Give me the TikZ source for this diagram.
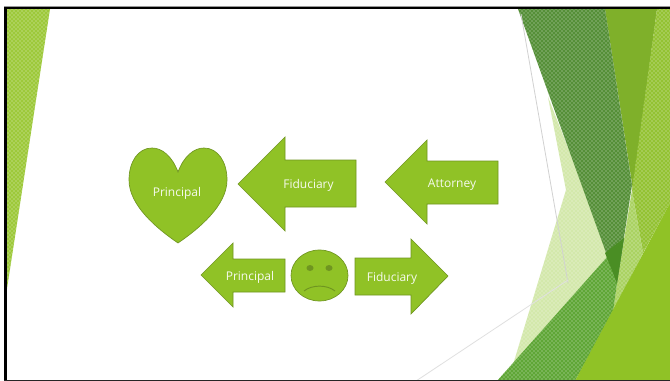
\documentclass[tikz,border=0pt]{standalone}
\usepackage{fontspec}
\setsansfont{Open Sans}
\usetikzlibrary{patterns}
\definecolor{signgreen}{HTML}{90C226}
\definecolor{signedge}{HTML}{6F9520}
\definecolor{wedgeleft}{HTML}{9DC93A}
\definecolor{wedgepale}{HTML}{D3E8AB}
\definecolor{wedgedark}{HTML}{558F38}
\definecolor{wedgeolive}{HTML}{7FB02A}
\definecolor{wedgelight}{HTML}{93C233}
\definecolor{wedgestrip}{HTML}{AAD262}
\definecolor{wedgemid}{HTML}{5FA636}
\definecolor{wedgedeep}{HTML}{4A8E24}
\tikzset{
  sign/.style={fill=signgreen, draw=signedge, line width=0.5pt},
  signtext/.style={text=white!92!signgreen, font=\sffamily\fontsize{9}{11}\selectfont, inner sep=0pt},
  dotfill/.style={fill=#1, postaction={pattern=crosshatch dots, pattern color=white!70!#1}},
}
\begin{document}
\begin{tikzpicture}[x=0.75pt,y=-0.75pt]
  \useasboundingbox (0,0) rectangle (670,381);
  \fill[white] (0,0) rectangle (670,381);

  % left wedge
  \fill[dotfill=wedgeleft] (6,9) -- (50,9) -- (6,295) -- cycle;

  % right wedges
  \fill[dotfill=wedgepale] (548,97) -- (566,190) -- (512,368) -- (612,260) -- cycle;
  \fill[wedgeolive] (605,9) -- (657,9) -- (633,190) -- cycle;
  \fill[dotfill=wedgelight] (657,9) -- (670,9) -- (670,203) -- (643,253) -- (632,190) -- cycle;
  \fill[dotfill=wedgestrip] (632,190) -- (643,253) -- (613,312) -- (617,283) -- cycle;
  \fill[dotfill=wedgemid] (497,381) -- (624,238) -- (617,283) -- (613,312) -- (575,381) -- cycle;
  \fill[dotfill=wedgedark] (518,9) -- (605,9) -- (632,185) -- (617,283) -- cycle;
  \fill[wedgedeep] (605,253) -- (624,238) -- (617,283) -- cycle;
  \fill[signgreen] (575,381) -- (670,203) -- (670,381) -- cycle;

  % thin lines
  \draw[black!18, line width=0.6pt] (521,14) -- (568,283);
  \draw[black!12, line width=0.6pt] (416,381) -- (568,280);

  % frame
  \fill[black!40] (4,6) rectangle (670,7.5);
  \fill[black] (4,7.5) rectangle (670,9);
  \fill[black] (4,7.5) rectangle (6.5,381);
  \fill[black!85] (4,380) rectangle (670,381);

  % heart
  \draw[sign] (178,172) .. controls (184,156) and (194,148) .. (204,148)
    .. controls (218,148) and (227,162) .. (227,180)
    .. controls (227,205) and (200,228) .. (178,243)
    .. controls (156,228) and (129,205) .. (129,180)
    .. controls (129,162) and (138,148) .. (152,148)
    .. controls (162,148) and (172,156) .. (178,172) -- cycle;
  \node[signtext] (heartlabel) at (177,193) {Principal};

  % arrows
  \draw[sign] (238,184) -- (285,137) -- (285,160) -- (356,160) -- (356,207) -- (285,207) -- (285,231) -- cycle;
  \node[signtext] (fiduciaryleft) at (308.5,185) {Fiduciary};
  \draw[sign] (385,182) -- (427,140) -- (427,161) -- (498,161) -- (498,204) -- (427,204) -- (427,224) -- cycle;
  \node[signtext] (attorney) at (452,184.5) {Attorney};
  \draw[sign] (201,275) -- (233,243) -- (233,259) -- (285,259) -- (285,292) -- (233,292) -- (233,307) -- cycle;
  \node[signtext] (principalleft) at (250,277) {Principal};
  \draw[sign] (448,276) -- (411,239) -- (411,258) -- (355,258) -- (355,295) -- (411,295) -- (411,314) -- cycle;
  \node[signtext] (fiduciaryright) at (392,278) {Fiduciary};

  % face
  \draw[sign] (319.5,275.5) ellipse (28.5 and 25.5);
  \fill[signedge] (310,268) ellipse (3.5 and 3);
  \fill[signedge] (329,268) ellipse (3.5 and 3);
  \draw[signedge, line width=0.7pt] (304,291) .. controls (312,284.5) and (327,284.5) .. (335,291);
\end{tikzpicture}
\end{document}
